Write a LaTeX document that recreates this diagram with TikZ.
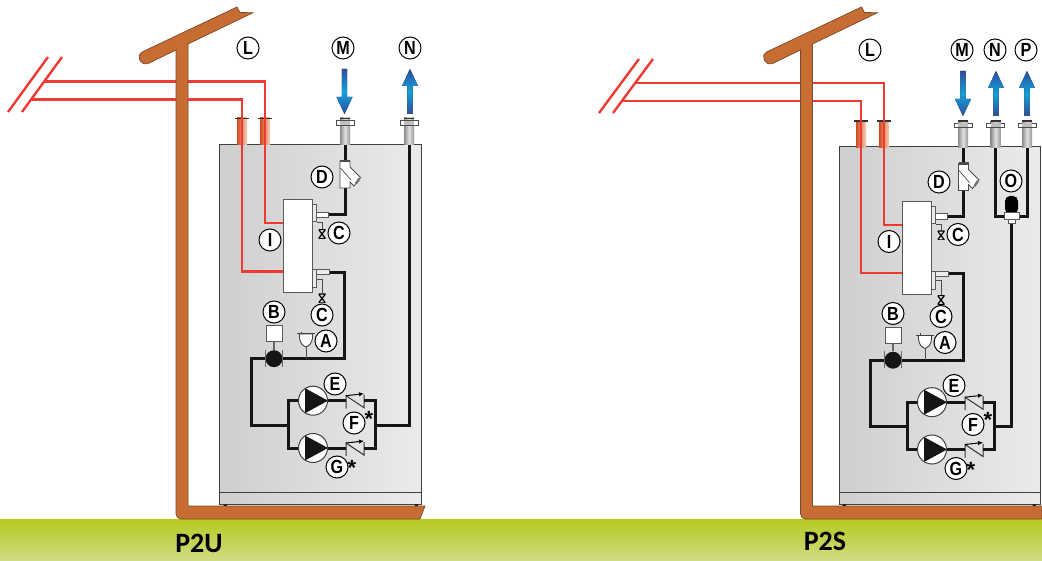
\documentclass[tikz,border=0pt]{standalone}
\usepackage{fontspec}
\setsansfont{Carlito}
\newfontfamily\tagfont[FakeStretch=0.85]{Liberation Sans}
\newfontfamily\starfont{Liberation Sans}
\usetikzlibrary{arrows.meta}

\definecolor{wallbrown}{HTML}{C76C33}
\definecolor{walledge}{HTML}{7B4A2A}
\definecolor{heatred}{HTML}{EE3A33}
\definecolor{pipeblack}{HTML}{151515}
\definecolor{flowdark}{HTML}{2E4C9E}
\definecolor{flowcyan}{HTML}{0FA3DC}
\definecolor{grasstop}{HTML}{B5C91E}
\definecolor{grassbottom}{HTML}{D1DC86}
\definecolor{copperleft}{HTML}{D24A20}
\definecolor{copperright}{HTML}{F5D2B6}

\tikzset{
  wall/.style={fill=wallbrown, draw=walledge, line width=0.7},
  heatline/.style={heatred, line width=2.4},
  pipe/.style={pipeblack, line width=3},
  thinpipe/.style={black!70, line width=0.9},
  cabinet/.style={left color=black!19, right color=black!8, draw=black!75, line width=1},
  tag/.style={circle, draw=black, fill=white, line width=1, minimum size=22, inner sep=0,
    font=\tagfont\bfseries\fontsize{19}{19}\selectfont},
  starmark/.style={inner sep=0, font=\starfont\bfseries\fontsize{22}{22}\selectfont},
  plate/.style={font=\sffamily\bfseries\fontsize{28}{28}\selectfont, inner sep=0},
  block/.style={rectangle, draw=black!65, fill=white, line width=1, minimum width=#1, inner sep=0},
  copperbody/.style={rectangle, minimum width=10, minimum height=27, inner sep=0,
    left color=copperleft, right color=copperright},
  graybody/.style={rectangle, minimum width=10, minimum height=27, inner sep=0,
    left color=black!45, right color=black!40, middle color=black!12},
  pumpbody/.style={circle, draw=black!75, fill=white, line width=1, minimum size=29, inner sep=0,
    path picture={\fill[pipeblack] (path picture bounding box.center) ++(-8,-12.5) -- ++(0,25) -- ++(23,-12.5) -- cycle;}},
  valvebody/.style={rectangle, minimum width=7, minimum height=9, inner sep=0,
    path picture={\draw[black, line width=1.2] (path picture bounding box.north west) -- (path picture bounding box.north east)
      -- (path picture bounding box.south west) -- (path picture bounding box.south east) -- cycle;}},
  pics/copperstub/.style={code={
    \node[copperbody] (-body) at (0,0) {};
    \draw[black!80, line width=1.4] (-7,-13) -- (7,-13);
  }},
  pics/graystub/.style={code={
    \node[graybody] (-body) at (0,0) {};
    \draw[black!70, fill=white, line width=0.8] (-9,-11) rectangle (9,-6.5);
    \fill[black!25] (-5,-10.6) rectangle (5,-6.9);
    \draw[black!80, line width=1.4] (-5,-13) -- (5,-13);
  }},
  pics/flowdown/.style={code={
    \fill[top color=flowdark, bottom color=flowdark, middle color=flowcyan]
      (-2.7,0) -- (2.7,0) -- (2.7,28) -- (8,28) -- (0,45) -- (-8,28) -- (-2.7,28) -- cycle;
  }},
  pics/flowup/.style={code={
    \fill[top color=flowdark, bottom color=flowdark, middle color=flowcyan]
      (0,0) -- (8,17) -- (2.7,17) -- (2.7,45) -- (-2.7,45) -- (-2.7,17) -- (-8,17) -- cycle;
  }},
  pics/strainer/.style={code={
    \draw[black!70, fill=white, line width=0.8] (-5,0) -- (5,0) -- (5,6) -- (15.5,16.5) -- (9,25)
      -- (5,21) -- (5,27) -- (-5,27) -- cycle;
    \draw[black!70, line width=0.7] (-4.5,7) -- (6,19);
    \draw[black!70, line width=2.2] (-5,0) -- (5,0);
    \draw[black!55, line width=2.4] (11,22.5) -- (14.5,17.5);
  }},
  pics/checkvalve/.style={code={
    \coordinate (-in) at (-9,0);
    \coordinate (-out) at (9,0);
    \draw[black!80, line width=1] (-9,8) -- (-9,-5) -- (9,7) -- (9,-6);
    \draw[black, line width=1, -{Latex[length=5,width=4.5]}] (-9,-5) -- (9,-7);
  }},
  % manifold, pumps and everything under them, the same in both units
  pics/hydro/.style={code={
    \node[block=29, minimum height=93] (manifold) at (297.5,246.5) {};
    \node[block=4, fill=black!8, minimum height=17] (fita) at (314,213.5) {};
    \node[block=12, minimum height=5.5] (noza) at (322,215) {};
    \node[block=4, fill=black!8, minimum height=18] (fitb) at (314,279) {};
    \node[block=13, fill=black!8, minimum height=5] (nozb) at (322.5,272.5) {};
    \node[valvebody] (valvea) at (322,234) {};
    \node[valvebody] (valveb) at (322,298.5) {};
    \draw[thinpipe] (fita.south east) -| (valvea.north);
    \draw[thinpipe] (fitb.east) -| (valveb.north);
    %
    \coordinate (bend) at (344.5,358.7);
    \coordinate (inlet) at (251.5,425);
    \coordinate (splitl) at (288,425);
    \coordinate (splitr) at (375,425);
    \coordinate (ventfoot) at (306,358.7);
    \node[circle, fill=pipeblack, minimum size=17, inner sep=0] (sep) at (274,358.7) {};
    \node[block=16, minimum height=16] (boxb) at (274,333.7) {};
    \node[pumpbody] (pumpa) at (313,400.7) {};
    \node[pumpbody] (pumpb) at (313,448) {};
    \pic (chka) at (355,400.7) {checkvalve};
    \pic (chkb) at (355,448) {checkvalve};
    \draw[pipe] (nozb.east) -| (bend) -- (sep.east);
    \draw[pipe] (sep.west) -| (inlet) -- (splitl);
    \draw[pipe] (pumpa.west) -| (splitl) |- (pumpb.west);
    \draw[pipe] (pumpa.east) -- (chka-in);
    \draw[pipe] (pumpb.east) -- (chkb-in);
    \draw[pipe] (chka-out) -| (splitr) |- (chkb-out);
    \draw[black!60, line width=1.4] (boxb.south) -- (sep.north);
    \draw[black!60, line width=0.8] (265.5,350) -- (265.5,367) (282.5,350) -- (282.5,367);
    % air vent
    \draw[black!70, line width=1] (ventfoot) -- (306,346);
    \draw[black!75, fill=white, line width=0.9] (299.5,334) -- (299.5,338) .. controls (300,343) and (303,346) .. (306,347)
      .. controls (309,346) and (312,343) .. (312.5,338) -- (312.5,334) -- cycle;
    \draw[black!75, line width=1] (297,334) -- (314.5,334) (301,332) -- (301,334);
    % labels
    \node[tag] (taga) at (326,341) {A};
    \node[tag] (tagb) at (274,312) {B};
    \node[tag] (tagca) at (339,233) {C};
    \node[tag] (tagcb) at (322,315) {C};
    \node[tag] (tage) at (335,384) {E};
    \node[tag] (tagf) at (354,423) {F};
    \node[tag] (tagg) at (337,467) {G};
    \node[tag] (tagi) at (270,240) {I};
    \node[starmark] (stara) at (369,418.5) {*};
    \node[starmark] (starb) at (352,468) {*};
  }},
}

\begin{document}
\begin{tikzpicture}[x=1pt, y=-1pt]
      \useasboundingbox (0,0) rectangle (1042,561);
      \node[rectangle, minimum width=1042, minimum height=42, inner sep=0, top color=grasstop,
        bottom color=grassbottom] (ground) at (521,540) {};

      % left unit, P2U
      \node[cabinet, rectangle, minimum width=202, minimum height=359, inner sep=0] (lft-box) at (320,324.5) {};
      \node[cabinet, rectangle, minimum width=202, minimum height=12, inner sep=0] (lft-base) at (320,498) {};
      \fill[black] (223.5,504.5) rectangle (227,506.5) (414.5,504.5) rectangle (418,506.5);
      \pic (lft-cua) at (242,131.5) {copperstub};
      \pic (lft-cub) at (265,131.5) {copperstub};
      \pic (lft-stubm) at (345,131.5) {graystub};
      \pic (lft-stubn) at (409,131.5) {graystub};
      \coordinate (lft-reda) at (44,81.5);
      \coordinate (lft-redb) at (32,99.7);
      \coordinate (lft-ina) at (284,223);
      \coordinate (lft-inb) at (284,271.7);
      \draw[heatline] (lft-reda) -| (lft-cub-body.center) |- (lft-ina);
      \draw[heatline] (lft-redb) -| (lft-cua-body.center) |- (lft-inb);
      \draw[heatline] (48,57) -- (8,112);
      \draw[heatline] (62,57) -- (22,112);
      \draw[wall] (176,50) [rounded corners=5.5] -- (143,66) -- (137,54.4) [sharp corners] -- (237,7) -- (240,12.5) -- (253,12.7)
        -- (188,44) -- (188,506) -- (425,506) -- (420,519) [rounded corners=5] -- (176,519) [sharp corners] -- cycle;
      \pic (lft-) at (0,0) {hydro};
      \draw[pipe] (lft-stubm-body.south) |- (lft-noza.east);
      \draw[pipe] (lft-splitr) -| (lft-stubn-body.south);
      \pic at (345,161) {strainer};
      \pic at (344.5,69) {flowdown};
      \pic at (410,69) {flowup};
      \node[tag] (lft-tagl) at (248,48) {L};
      \node[tag] (lft-tagm) at (343,48) {M};
      \node[tag] (lft-tagn) at (410,48) {N};
      \node[tag] (lft-tagd) at (322,177) {D};
      \node[plate] (lft-name) at (199,543) {P2U};

      % right unit, P2S
      \node[cabinet, rectangle, minimum width=201, minimum height=357, inner sep=0] (rgt-box) at (939.5,325.5) {};
      \node[cabinet, rectangle, minimum width=201, minimum height=12, inner sep=0] (rgt-base) at (939.5,498) {};
      \fill[black] (842.5,504.5) rectangle (846,506.5) (1032.5,504.5) rectangle (1036,506.5);
      \pic (rgt-cua) at (861,134) {copperstub};
      \pic (rgt-cub) at (884,134) {copperstub};
      \pic (rgt-stubm) at (963,134) {graystub};
      \pic (rgt-stubn) at (995.5,134) {graystub};
      \pic (rgt-stubp) at (1027,134) {graystub};
      \coordinate (rgt-reda) at (635,83);
      \coordinate (rgt-redb) at (623,101);
      \coordinate (rgt-ina) at (903,225);
      \coordinate (rgt-inb) at (903,273);
      \draw[heatline] (rgt-reda) -| (rgt-cub-body.center) |- (rgt-ina);
      \draw[heatline] (rgt-redb) -| (rgt-cua-body.center) |- (rgt-inb);
      \draw[heatline] (639,59) -- (599,113);
      \draw[heatline] (653,59) -- (613,113);
      \draw[wall] (800.5,50) [rounded corners=5.5] -- (767.5,66) -- (761.5,54.4) [sharp corners] -- (861.5,7) -- (864.5,12.5) -- (877.5,12.7)
        -- (812.5,44) -- (812.5,506) -- (1042,506) -- (1042,519) [rounded corners=5] -- (800.5,519) [sharp corners] -- cycle;
      \pic (rgt-) at (619,1.5) {hydro};
      \node[rectangle, rounded corners=5, fill=black, minimum width=13, minimum height=18, inner sep=0] (rgt-vessel) at (1011.5,205) {};
      \node[block=7, minimum height=6] (rgt-teefoot) at (1011.5,221) {};
      \node[block=15, minimum height=7] (rgt-tee) at (1011.5,216.5) {};
      \draw[pipe] (rgt-stubm-body.south) |- (rgt-noza.east);
      \draw[pipe] (rgt-stubn-body.south) |- (rgt-tee.west);
      \draw[pipe] (rgt-stubp-body.south) |- (rgt-tee.east);
      \draw[pipe] (rgt-splitr) -| (rgt-teefoot.south);
      \pic at (963.5,163.5) {strainer};
      \pic at (963,71) {flowdown};
      \pic at (996,71) {flowup};
      \pic at (1027,71) {flowup};
      \node[tag] (rgt-tagl) at (870,50) {L};
      \node[tag] (rgt-tagm) at (962,50) {M};
      \node[tag] (rgt-tagn) at (995,50) {N};
      \node[tag] (rgt-tagp) at (1026,50) {P};
      \node[tag] (rgt-tagd) at (939,182) {D};
      \node[tag] (rgt-tago) at (1011,181) {O};
      \node[plate] (rgt-name) at (825,541) {P2S};
\end{tikzpicture}
\end{document}
